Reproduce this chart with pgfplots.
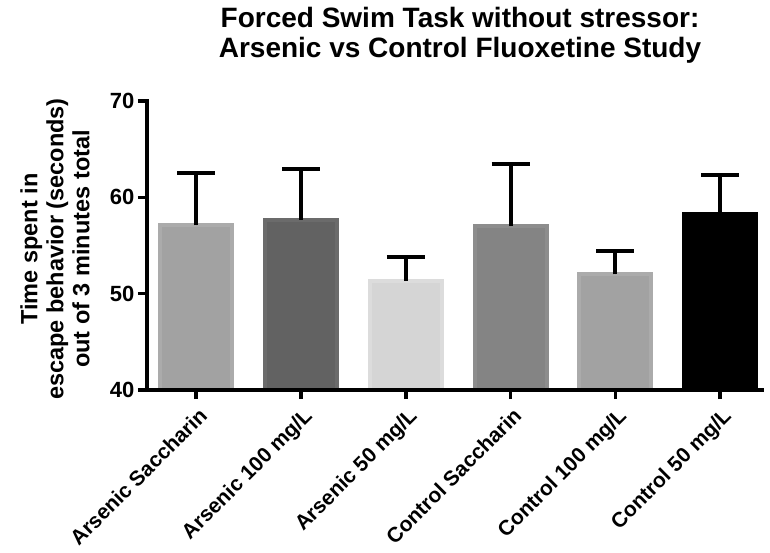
\documentclass[border=0pt]{standalone}
\usepackage{pgfplots}
\pgfplotsset{compat=1.18}
\usepackage{fontspec}
\setmainfont{Liberation Sans}
\definecolor{fA}{HTML}{A2A2A2}\definecolor{eA}{HTML}{ABABAB}
\definecolor{fB}{HTML}{626262}\definecolor{eB}{HTML}{6B6B6B}
\definecolor{fC}{HTML}{D5D5D5}\definecolor{eC}{HTML}{DCDCDC}
\definecolor{fD}{HTML}{848484}\definecolor{eD}{HTML}{8D8D8D}
\definecolor{fE}{HTML}{A2A2A2}\definecolor{eE}{HTML}{ABABAB}
\definecolor{fF}{HTML}{000000}\definecolor{eF}{HTML}{000000}
\begin{document}
\begin{tikzpicture}[x=1pt,y=1pt]
\path[use as bounding box] (0,0) rectangle (770,552);
\node[font=\fontsize{28}{32}\selectfont\bfseries, anchor=base, inner sep=0pt] at (460,524) {Forced Swim Task without stressor:};
\node[font=\fontsize{28}{32}\selectfont\bfseries, anchor=base, inner sep=0pt] at (460,494) {Arsenic vs Control Fluoxetine Study};
\node[rotate=90, align=center, inner sep=0pt, font=\fontsize{23.5}{26}\selectfont\bfseries] at (55,303) {Time spent in\\escape behavior (seconds)\\out of 3 minutes total};
\begin{axis}[
  at={(147pt,162pt)}, anchor=south west,
  scale only axis, width=615pt, height=289pt,
  xmin=-0.47, xmax=5.40, ymin=40, ymax=70,
  axis x line*=bottom, axis y line*=left,
  axis line style={line width=3.5pt, line cap=rect},
  xtick={0,1,2,3,4,5},
  xticklabels={Arsenic Saccharin, Arsenic 100 mg/L, Arsenic 50 mg/L, Control Saccharin, Control 100 mg/L, Control 50 mg/L},
  ytick={40,50,60,70},
  tick align=outside, major tick length=9pt,
  tick style={line width=3.5pt, black},
  /pgf/number format/assume math mode=true,
  yticklabel style={font=\fontsize{22}{25}\selectfont\bfseries},
  xticklabel style={font=\fontsize{21}{24}\selectfont\bfseries, rotate=45, anchor=north east, inner sep=1pt, xshift=-3pt, yshift=-5pt},
  axis on top,
  clip=true,
]
\addplot[ybar, bar width=72pt, fill=fA, draw=eA, line width=4pt, error bars/.cd, y dir=plus, y explicit, error bar style={line width=4pt, black}, error mark options={rotate=90, mark size=19pt, line width=4pt, black}] coordinates {(0,57.1) +- (0,5.4)};
\addplot[ybar, bar width=72pt, fill=fB, draw=eB, line width=4pt, error bars/.cd, y dir=plus, y explicit, error bar style={line width=4pt, black}, error mark options={rotate=90, mark size=19pt, line width=4pt, black}] coordinates {(1,57.65) +- (0,5.25)};
\addplot[ybar, bar width=72pt, fill=fC, draw=eC, line width=4pt, error bars/.cd, y dir=plus, y explicit, error bar style={line width=4pt, black}, error mark options={rotate=90, mark size=19pt, line width=4pt, black}] coordinates {(2,51.3) +- (0,2.5)};
\addplot[ybar, bar width=72pt, fill=fD, draw=eD, line width=4pt, error bars/.cd, y dir=plus, y explicit, error bar style={line width=4pt, black}, error mark options={rotate=90, mark size=19pt, line width=4pt, black}] coordinates {(3,57.0) +- (0,6.5)};
\addplot[ybar, bar width=72pt, fill=fE, draw=eE, line width=4pt, error bars/.cd, y dir=plus, y explicit, error bar style={line width=4pt, black}, error mark options={rotate=90, mark size=19pt, line width=4pt, black}] coordinates {(4,52.0) +- (0,2.4)};
\addplot[ybar, bar width=72pt, fill=fF, draw=eF, line width=4pt, error bars/.cd, y dir=plus, y explicit, error bar style={line width=4pt, black}, error mark options={rotate=90, mark size=19pt, line width=4pt, black}] coordinates {(5,58.3) +- (0,4.0)};
\end{axis}
\end{tikzpicture}
\end{document}
